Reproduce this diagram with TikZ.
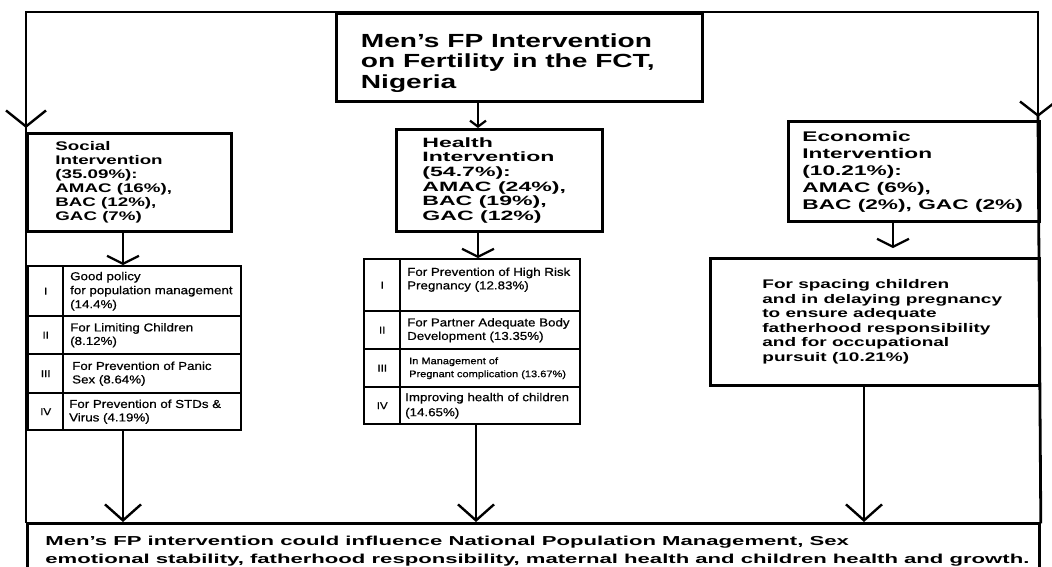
\documentclass[tikz,border=0pt]{standalone}
\usepackage{fontspec}
\setmainfont{Liberation Sans}
\newfontfamily\titlef[FakeStretch=1.48]{Liberation Sans}
\newfontfamily\socf[FakeStretch=1.5]{Liberation Sans}
\newfontfamily\healf[FakeStretch=1.71]{Liberation Sans}
\newfontfamily\econf[FakeStretch=1.62]{Liberation Sans}
\newfontfamily\spacf[FakeStretch=1.52]{Liberation Sans}
\newfontfamily\botf[FakeStretch=1.7]{Liberation Sans}
\newfontfamily\tabf[FakeStretch=1.16,FakeBold=0.6]{Liberation Sans}
\usetikzlibrary{arrows.meta}
\newcommand{\mybt}[3]{\hspace*{#1}\parbox[c]{#2}{\raggedright #3}}
\tikzset{
  frame/.style={line width=2.8pt, line cap=rect},
  box/.style={draw, line width=2.8pt, rectangle, inner sep=0pt, anchor=north west},
  cell/.style={draw, line width=2.4pt, rectangle, inner sep=0pt, anchor=north west},
  numcell/.style={draw, line width=2.4pt, rectangle, inner sep=0pt, anchor=north west, align=center, font=\tabf\fontsize{10}{12}\selectfont},
  bigarr/.style={line width=2.4pt, -{Straight Barb[length=16pt,width=36pt,line width=2.4pt]}},
  smallarr/.style={line width=2.6pt, -{Straight Barb[length=8pt,width=32pt,line width=2.2pt]}},
  tinyarr/.style={line width=2.6pt, -{Straight Barb[length=6pt,width=16pt,line width=2.2pt]}},
}
\begin{document}
\begin{tikzpicture}[x=1pt,y=-1pt]
\useasboundingbox (0,0) rectangle (1052,566);
\clip (0,0) rectangle (1052,566);
\fill[white] (0,0) rectangle (1052,566);

% column coordinates
\coordinate (sx) at (123,0);
\coordinate (hx) at (478,0);
\coordinate (hx2) at (476,0);
\coordinate (ex) at (893,0);
\coordinate (ex2) at (864,0);
\coordinate (fl) at (26,128);
\coordinate (fr) at (1038,117);

% title
\node[box, minimum width=366pt, minimum height=88pt,
      font=\titlef\bfseries\fontsize{19}{20.5}\selectfont] (title) at (335,12)
  {\mybt{23pt}{340pt}{\vspace*{11pt}Men’s FP Intervention\\on Fertility in the FCT,\\Nigeria}};

% main boxes
\node[box, minimum width=204pt, minimum height=98pt,
      font=\socf\bfseries\fontsize{12.5}{14}\selectfont] (soc) at (26,132)
  {\mybt{27pt}{175pt}{Social\\Intervention\\(35.09\%):\\AMAC (16\%),\\BAC (12\%),\\GAC (7\%)}};
\node[box, minimum width=206pt, minimum height=102pt,
      font=\healf\bfseries\fontsize{13.5}{14.6}\selectfont] (heal) at (395,128)
  {\mybt{25pt}{179pt}{Health\\Intervention\\(54.7\%):\\AMAC (24\%),\\BAC (19\%),\\GAC (12\%)}};
\node[box, minimum width=251pt, minimum height=100pt,
      font=\econf\bfseries\fontsize{14}{17}\selectfont] (econ) at (787,120)
  {\mybt{13pt}{236pt}{Economic\\Intervention\\(10.21\%):\\AMAC (6\%),\\BAC (2\%), GAC (2\%)}};
\node[box, minimum width=329pt, minimum height=127pt,
      font=\spacf\bfseries\fontsize{12.5}{14.5}\selectfont] (spac) at (709,257)
  {\mybt{51pt}{276pt}{For spacing children\\and in delaying pregnancy\\to ensure adequate\\fatherhood responsibility\\and for occupational\\pursuit (10.21\%)}};

% social table
\node[numcell, minimum width=35pt, minimum height=50pt] (sn1) at (27,265) {I};
\node[numcell, minimum width=35pt, minimum height=38pt] (sn2) at (27,315) {II};
\node[numcell, minimum width=35pt, minimum height=39pt] (sn3) at (27,353) {III};
\node[numcell, minimum width=35pt, minimum height=37pt] (sn4) at (27,392) {IV};
\node[cell, minimum width=178pt, minimum height=50pt,
      font=\tabf\fontsize{11.5}{14}\selectfont] (st1) at (62,265)
  {\mybt{6pt}{170pt}{Good policy\\for population management\\(14.4\%)}};
\node[cell, minimum width=178pt, minimum height=38pt,
      font=\tabf\fontsize{11.5}{13.5}\selectfont] (st2) at (62,315)
  {\mybt{6pt}{170pt}{For Limiting Children\\(8.12\%)}};
\node[cell, minimum width=178pt, minimum height=39pt,
      font=\tabf\fontsize{11.5}{13.5}\selectfont] (st3) at (62,353)
  {\mybt{8pt}{168pt}{For Prevention of Panic\\Sex (8.64\%)}};
\node[cell, minimum width=178pt, minimum height=37pt,
      font=\tabf\fontsize{11.5}{13.5}\selectfont] (st4) at (62,392)
  {\mybt{5pt}{171pt}{For Prevention of STDs \&\\Virus (4.19\%)}};

% health table
\node[numcell, minimum width=36pt, minimum height=52pt] (hn1) at (363,258) {I};
\node[numcell, minimum width=36pt, minimum height=38pt] (hn2) at (363,310) {II};
\node[numcell, minimum width=36pt, minimum height=38pt] (hn3) at (363,348) {III};
\node[numcell, minimum width=36pt, minimum height=37pt] (hn4) at (363,386) {IV};
\node[cell, minimum width=180pt, minimum height=52pt,
      font=\tabf\fontsize{11.5}{13.5}\selectfont] (ht1) at (399,258)
  {\mybt{6pt}{172pt}{For Prevention of High Risk\\Pregnancy (12.83\%)\\\mbox{}}};
\node[cell, minimum width=180pt, minimum height=38pt,
      font=\tabf\fontsize{11.5}{13.5}\selectfont] (ht2) at (399,310)
  {\mybt{6pt}{172pt}{For Partner Adequate Body\\Development (13.35\%)}};
\node[cell, minimum width=180pt, minimum height=38pt,
      font=\tabf\fontsize{9.5}{13}\selectfont] (ht3) at (399,348)
  {\mybt{8pt}{170pt}{In Management of\\Pregnant complication (13.67\%)}};
\node[cell, minimum width=180pt, minimum height=37pt,
      font=\tabf\fontsize{11.5}{15}\selectfont] (ht4) at (399,386)
  {\mybt{4pt}{174pt}{Improving health of children\\(14.65\%)}};

% bottom box
\node[box, minimum width=1012pt, minimum height=56pt,
      font=\botf\bfseries\fontsize{13}{18}\selectfont] (bot) at (26,522)
  {\mybt{17pt}{993pt}{Men’s FP intervention could influence National Population Management, Sex\\emotional stability, fatherhood responsibility, maternal health and children health and growth.}};

% frame
\draw[frame, {Straight Barb[length=16pt,width=40pt,line width=2.4pt]}-{Straight Barb[length=14pt,width=36pt,line width=2.4pt]}]
  (fl) |- (title.north) -| (fr);
\draw[frame] (fl) -- (bot.north west);
\draw[frame] (fr) -- (bot.north east);

% connectors
\draw[tinyarr] (title.south -| hx) -- (heal.north -| hx);
\draw[smallarr] (soc.south -| sx) -- (sn1.north -| sx);
\draw[smallarr] (heal.south -| hx) -- (hn1.north -| hx);
\draw[smallarr, shorten >=9pt] (econ.south -| ex) -- (spac.north -| ex);
\draw[bigarr] (st4.south -| sx) -- (bot.north -| sx);
\draw[bigarr] (ht4.south -| hx2) -- (bot.north -| hx2);
\draw[bigarr] (spac.south -| ex2) -- (bot.north -| ex2);
\end{tikzpicture}
\end{document}
